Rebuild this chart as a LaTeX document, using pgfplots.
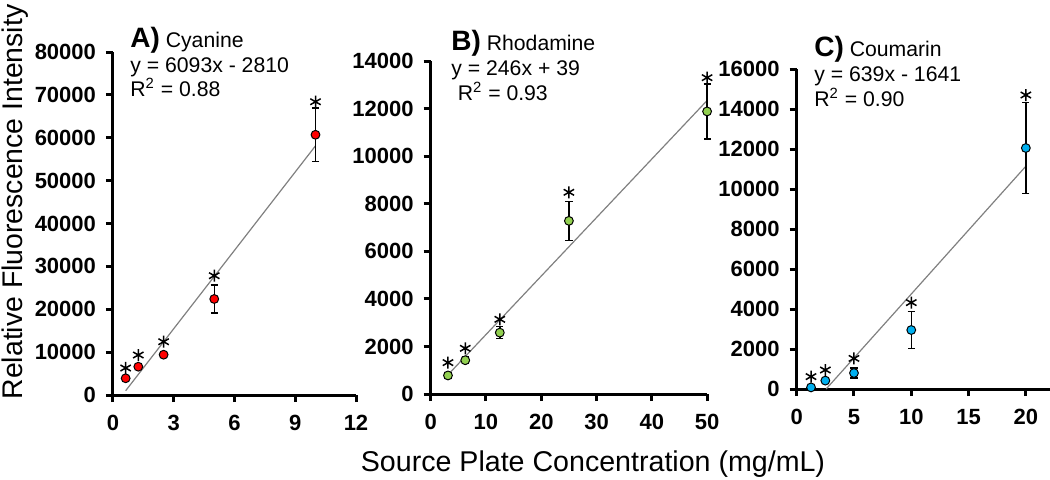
\documentclass[border=0pt]{standalone}
\usepackage{fontspec}
\setmainfont{Liberation Sans}
\usepackage{pgfplots}
\pgfplotsset{compat=1.18}

\definecolor{ptred}{RGB}{255,0,0}
\definecolor{ptgreen}{RGB}{146,208,80}
\definecolor{ptblue}{RGB}{0,176,240}
\definecolor{trendgray}{RGB}{128,128,128}

\pgfplotsset{
	panel/.style={
		scale only axis,
		anchor=south west,
		axis x line=bottom,
		axis y line=left,
		axis line style={-, line width=1.5pt},
		tick style={line width=1.5pt, black},
		tick align=outside,
		major tick length=3.5pt,
		ticklabel style={font=\bfseries\fontsize{11}{12}\selectfont},
		xticklabel style={yshift=-3pt},
		yticklabel style={xshift=-1.5pt},
		/pgf/number format/assume math mode=true,
		/pgf/number format/1000 sep={},
		scaled ticks=false,
		enlargelimits=false,
		clip=false,
	},
	trend/.style={trendgray, line width=0.6pt, no marks},
	pts/.style={only marks, mark=*, mark size=2.2pt,
		mark options={draw=black, line width=0.5pt, fill=#1},
		error bars/.cd, y dir=both, y explicit,
		error bar style={black, line width=0.7pt},
		error mark options={rotate=90, mark size=1.8pt, black, line width=0.7pt}},
	star/.style={only marks, mark=asterisk, mark size=3pt,
		mark options={black, line width=0.75pt}},
}

\pgfplotstableread{
x y ey
0.625 3900 300
1.25 6600 400
2.5 9400 500
5 22400 3300
10 60700 6200
}\cyanine
\pgfplotstableread{
x y ey
3.125 780 120
6.25 1420 130
12.5 2580 250
25 7280 820
50 11880 1160
}\rhodamine
\pgfplotstableread{
x y ey
1.25 80 50
2.5 420 60
5 800 250
10 2950 930
20 12050 2270
}\coumarin

\begin{document}
\begin{tikzpicture}
\useasboundingbox (0,0) rectangle (525pt,239.5pt);

% A) Cyanine
\begin{axis}[panel, at={(56.5pt,42pt)}, width=121.5pt, height=171.5pt,
	xmin=0, xmax=12, ymin=0, ymax=80000,
	xtick={0,3,6,9,12}, ytick={0,10000,...,80000}]
\addplot [trend] coordinates {(0.625,998) (10,58120)};
\addplot [pts=ptred] table [x=x, y=y, y error=ey] {\cyanine};
\addplot [star] coordinates {(0.625,6300) (1.25,9330) (2.5,12430) (5,27830) (10,68400)};
\end{axis}

% B) Rhodamine
\begin{axis}[panel, at={(215.35pt,42.5pt)}, width=138.2pt, height=166.5pt,
	xmin=0, xmax=50, ymin=0, ymax=14000,
	xtick={0,10,...,50}, ytick={0,2000,...,14000}]
\addplot [trend] coordinates {(3.125,808) (50,12339)};
\addplot [pts=ptgreen] table [x=x, y=y, y error=ey] {\rhodamine};
\addplot [star] coordinates {(3.125,1320) (6.25,1920) (12.5,3140) (25,8480) (50,13300)};
\end{axis}

% C) Coumarin
\begin{axis}[panel, at={(398.35pt,45pt)}, width=126.6pt, height=160pt,
	xmin=0, xmax=22.1, ymin=0, ymax=16000,
	xtick={0,5,...,20}, ytick={0,2000,...,16000}]
\addplot [trend] coordinates {(2.568,0) (20,11139)};
\addplot [pts=ptblue] table [x=x, y=y, y error=ey] {\coumarin};
\addplot [star] coordinates {(1.25,620) (2.5,950) (5,1530) (10,4320) (20,14700)};
\end{axis}

\begin{scope}[every node/.style={inner sep=0pt, anchor=base west, font=\fontsize{10.6}{12}\selectfont}]
\node at (65pt,216pt) {{\bfseries\fontsize{14}{14}\selectfont A)} Cyanine};
\node at (65pt,203.25pt) {y = 6093x - 2810};
\node at (65pt,191.2pt) {R\textsuperscript{2} = 0.88};
\node at (225.5pt,214.5pt) {{\bfseries\fontsize{14}{14}\selectfont B)} Rhodamine};
\node at (225.5pt,202pt) {y = 246x + 39};
\node at (228.7pt,189.5pt) {R\textsuperscript{2} = 0.93};
\node at (407pt,211.5pt) {{\bfseries\fontsize{14}{14}\selectfont C)} Coumarin};
\node at (407pt,198.65pt) {y = 639x - 1641};
\node at (407pt,186.15pt) {R\textsuperscript{2} = 0.90};
\end{scope}

\node [inner sep=0pt, anchor=base, rotate=90, font=\fontsize{14.2}{16}\selectfont]
	at (11.3pt,138.5pt) {Relative Fluorescence Intensity};
\node [inner sep=0pt, anchor=base, font=\fontsize{14.3}{16}\selectfont]
	at (296.5pt,3.65pt) {Source Plate Concentration (mg/mL)};
\end{tikzpicture}
\end{document}
